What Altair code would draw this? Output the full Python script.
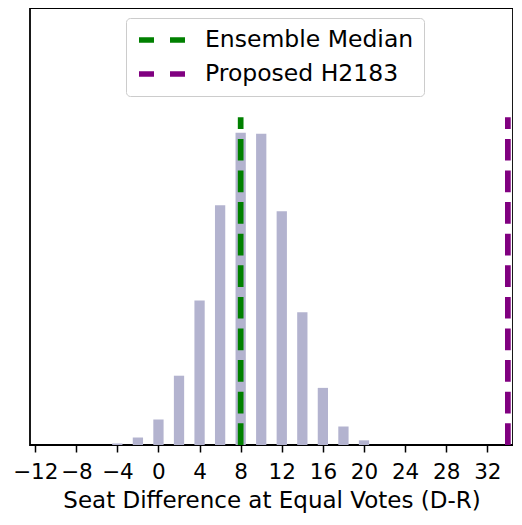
import altair as alt
import pandas as pd

# Histogram of seat differences (even values), heights
seat_diff = [-4, -2, 0, 2, 4, 6, 8, 10, 12, 14, 16, 18, 20]
counts = [5, 24, 82, 222, 463, 768, 1000, 997, 749, 425, 183, 59, 15]

tick_values = [-12, -8, -4, 0, 4, 8, 12, 16, 20, 24, 28, 32]

line_labels = ["Ensemble Median", "Proposed H2183"]
line_x = [8, 34]
line_colors = ["green", "purple"]

x_domain = [-12.5, 34.5]
y_max = 1.4 * max(counts)
line_top = 1.05 * max(counts)

bars_df = pd.DataFrame({"seat": seat_diff, "count": counts})
lines_df = pd.DataFrame({"label": line_labels, "x": line_x,
                         "y0": [0] * len(line_x), "y1": [line_top] * len(line_x)})

FONT = "DejaVu Sans"

xscale = alt.Scale(domain=x_domain, nice=False, zero=False)
yscale = alt.Scale(domain=[0, y_max], nice=False)

bars = alt.Chart(bars_df).transform_calculate(
    lo="datum.seat - 0.5", hi="datum.seat + 0.5"
).mark_bar(color="#b3b3cf").encode(
    x=alt.X("lo:Q", scale=xscale,
            axis=alt.Axis(values=tick_values, title="Seat Difference at Equal Votes (D-R)",
                          grid=False, domain=False, tickSize=7, tickWidth=1.5,
                          tickColor="black", labelFontSize=21.5, labelColor="black",
                          labelPadding=9.7, titleFontSize=23, titleFontWeight="normal",
                          titleColor="black", titlePadding=6.6, labelFont=FONT,
                          titleFont=FONT, labelFlush=False, labelOverlap=False)),
    x2="hi:Q",
    y=alt.Y("count:Q", scale=yscale, axis=None),
    y2=alt.datum(0),
)

rules = alt.Chart(lines_df).mark_rule(strokeWidth=5.7, strokeDash=[21.7, 9.9]).encode(
    x=alt.X("x:Q", scale=xscale),
    y=alt.Y("y0:Q", scale=yscale),
    y2="y1:Q",
    color=alt.Color("label:N",
                    scale=alt.Scale(domain=line_labels, range=line_colors),
                    legend=alt.Legend(title=None, orient="none", legendX=96, legendY=10,
                                      symbolType="stroke", symbolSize=2209,
                                      symbolStrokeWidth=5.7, symbolDash=[15, 16],
                                      labelFontSize=23.5, labelFont=FONT, labelColor="black",
                                      labelLimit=400,
                                      padding=10, strokeColor="#cccccc", cornerRadius=4,
                                      fillColor="white", clipHeight=24, rowPadding=10,
                                      labelOffset=16, symbolOffset=0)),
)

chart = alt.layer(bars, rules).properties(
    width=483, height=437,
    padding={"left": 4, "top": 0, "right": 0, "bottom": 0},
).configure(font=FONT).configure_view(stroke="black", strokeWidth=1.8)

chart.save("out.html", embed_options={"renderer": "svg", "actions": False})
